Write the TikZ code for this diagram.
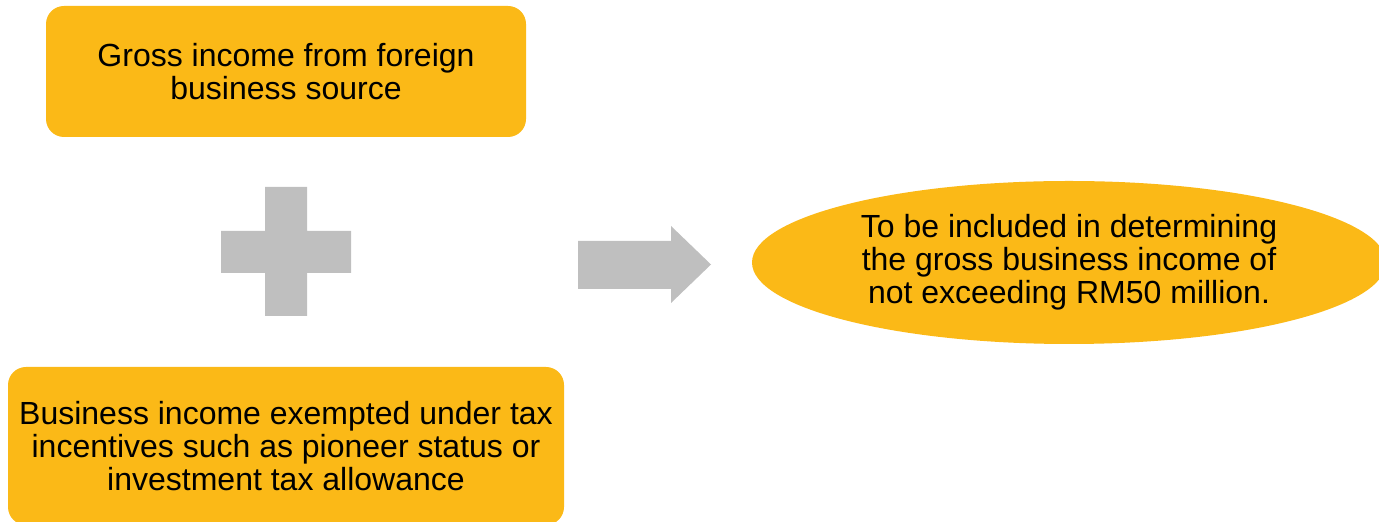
\documentclass[tikz,border=0pt]{standalone}
\usepackage{fontspec}
\setmainfont{Liberation Sans}
\usepackage{xcolor}
\usetikzlibrary{shapes.geometric}
\definecolor{amber}{HTML}{FBB917}
\definecolor{mark}{HTML}{BFBFBF}

\begin{document}
\begin{tikzpicture}[
    x=0.5pt, y=-0.5pt,
    font=\fontsize{16pt}{16.5pt}\selectfont,
    part/.style={rounded corners=9pt, fill=amber, align=center,
        inner sep=0pt, text=black},
    result/.style={ellipse, fill=amber, align=center, inner sep=0pt,
        minimum width=317pt, minimum height=81.5pt, text=black},
    sym/.style={fill=mark},
  ]
  \useasboundingbox (0,0) rectangle (1379,522);
  \node[part, minimum width=240pt, minimum height=65.5pt] (gross) at (286,71.5)
    {Gross income from foreign\\business source};
  \node[part, minimum width=278pt, minimum height=79pt] (exempt) at (286,446)
    {Business income exempted under tax\\incentives such as pioneer status or\\investment tax allowance};
  \node[result] (total) at (1069,262.5)
    {To be included in determining\\the gross business income of\\not exceeding RM50 million.};
  % plus sign
  \fill[sym] (265,187) -- (307,187) -- (307,231) -- (351,231) -- (351,273)
    -- (307,273) -- (307,316) -- (265,316) -- (265,273) -- (221,273)
    -- (221,231) -- (265,231) -- cycle;
  % arrow
  \fill[sym] (578,241) -- (671,241) -- (671,226) -- (711,264.5) -- (671,303)
    -- (671,289) -- (578,289) -- cycle;
\end{tikzpicture}
\end{document}
